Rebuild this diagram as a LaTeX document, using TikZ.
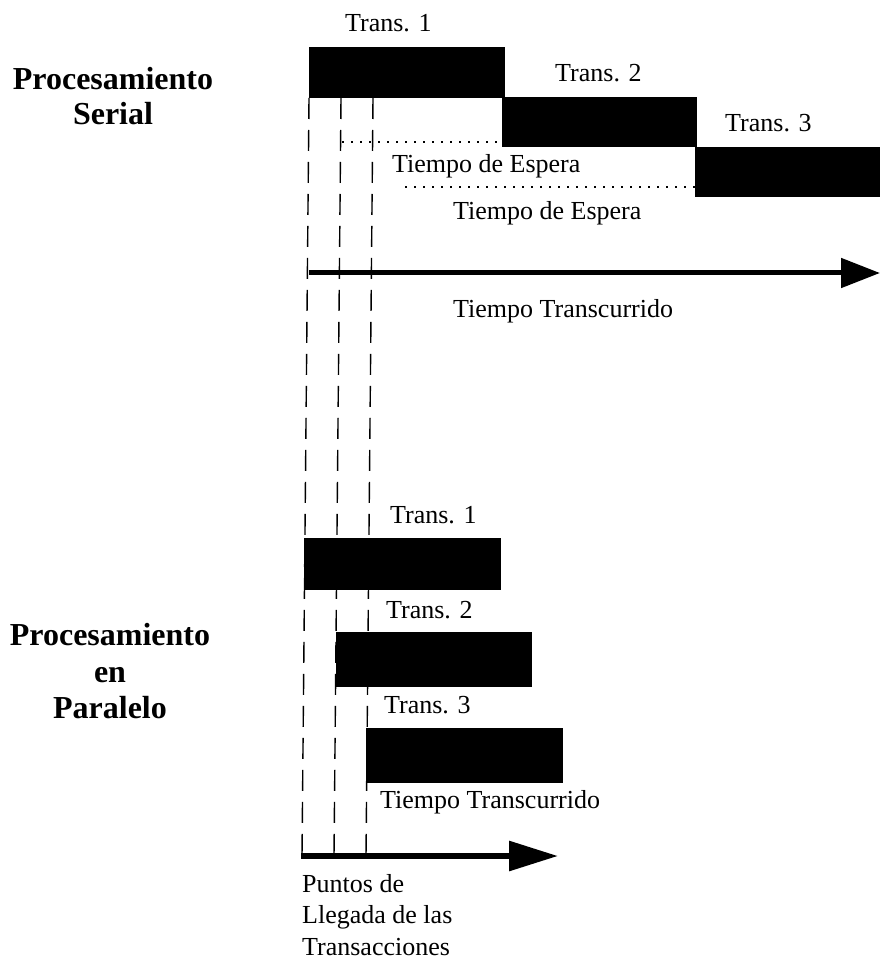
\documentclass[tikz,border=0pt]{standalone}
\usepackage{fontspec}
\setmainfont{Liberation Serif}
\usetikzlibrary{arrows.meta}
\begin{document}
\begin{tikzpicture}[x=1pt,y=-1pt,
    bar/.style={fill=black,inner sep=0pt,anchor=north west},
    lbl/.style={anchor=base west,inner sep=0pt,font=\fontsize{26}{31}\selectfont},
    heading/.style={anchor=base,inner sep=0pt,font=\fontsize{32}{36}\selectfont\bfseries},
    arrival/.style={line width=1.4pt,dash pattern=on 21pt off 11pt},
    wait/.style={line width=1.4pt,dash pattern=on 1.5pt off 7.5pt},
    timeline/.style={-{Triangle[length=#1,width=29pt]}}]
    \useasboundingbox (0,0) rectangle (880,973);
    \node[heading] (ser1) at (113,90) {Procesamiento};
    \node[heading] (ser2) at (113,125) {Serial};
    \node[heading] (par1) at (110,645) {Procesamiento};
    \node[heading] (par2) at (110,682) {en};
    \node[heading] (par3) at (110,718) {Paralelo};
    \foreach \i/\xt/\xb in {1/309/302,2/341/334,3/373/366}
        \draw[arrival] (\xt,98) coordinate (t\i) -- (\xb,856) coordinate (a\i);
    \node[bar,minimum width=196pt,minimum height=51pt] (s1) at (309,47) {};
    \node[bar,minimum width=195pt,minimum height=50pt] (s2) at (502,97) {};
    \node[bar,minimum width=185pt,minimum height=50pt] (s3) at (695,147) {};
    \node[lbl] (s1l) at (345,32) {Trans. 1};
    \node[lbl] (s2l) at (555,82) {Trans. 2};
    \node[lbl] (s3l) at (725,132) {Trans. 3};
    \draw[wait] (342,142) -- (s2.west |- 0,142);
    \draw[wait] (405,187) -- (s3.west |- 0,187);
    \node[lbl] (w2) at (392,173) {Tiempo de Espera};
    \node[lbl] (w3) at (453,220) {Tiempo de Espera};
    \draw[timeline=39pt,line width=5pt] (t1 |- 0,273) coordinate (so) -- (880,273) coordinate (se);
    \node[lbl] (st) at (453,317) {Tiempo Transcurrido};
    \node[bar,minimum width=197pt,minimum height=52pt] (p1) at (304,538) {};
    \node[bar,minimum width=196pt,minimum height=55pt] (p2) at (336,632) {};
    \node[bar,minimum width=197pt,minimum height=55pt] (p3) at (366,728) {};
    \node[lbl] (p1l) at (390,523) {Trans. 1};
    \node[lbl] (p2l) at (386,618) {Trans. 2};
    \node[lbl] (p3l) at (384,713) {Trans. 3};
    \node[lbl] (pt) at (380,808) {Tiempo Transcurrido};
    \draw[timeline=49pt,line width=6pt] (301,856) coordinate (po) -- (558,856) coordinate (pe);
    \node[lbl] (n1) at (302,892) {Puntos de};
    \node[lbl] (n2) at (302,923) {Llegada de las};
    \node[lbl] (n3) at (302,955) {Transacciones};
\end{tikzpicture}
\end{document}
